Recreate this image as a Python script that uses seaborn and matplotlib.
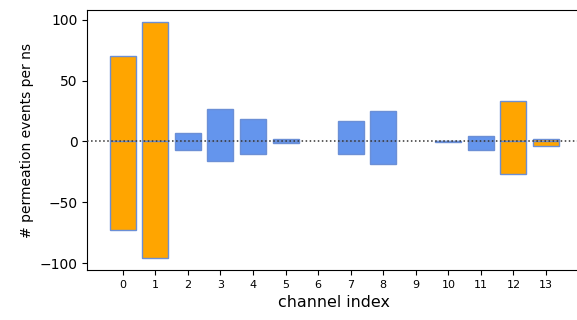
import numpy as np
import pandas as pd
import matplotlib
matplotlib.use("Agg")
import matplotlib.pyplot as plt
import seaborn as sns

# Permeation events per ns for each channel (positive / negative direction)
channels = list(range(14))
events_up = [70, 98, 6.5, 26.5, 18.3, 1.7, np.nan, 16.8, 25.0, np.nan, 0.3, 4.7, 32.9, 2.2]
events_down = [-73, -96, -6.8, -16.1, -10.4, -1.0, np.nan, -10.4, -18.6, np.nan, -0.3, -6.8, -26.6, -4.1]
highlight = [0, 1, 12, 13]
y_ticks = [-100, -50, 0, 50, 100]

bar_colors = ["orange" if c in highlight else "cornflowerblue" for c in channels]
edge_color = "#6b8fd6"

df = pd.DataFrame({"channel": channels, "up": events_up, "down": events_down})

fig = plt.figure(figsize=(5.77, 3.20), dpi=100)
ax = fig.add_axes([0.1513, 0.15625, 0.8565, 0.8125])

for col in ["up", "down"]:
    sns.barplot(data=df, x="channel", y=col, hue="channel", palette=bar_colors,
                legend=False, width=0.8, edgecolor=edge_color, linewidth=1,
                saturation=1, ax=ax)

ax.axhline(0, color="#333333", linestyle=":", linewidth=1.1, zorder=5)

ax.set_xlim(-1.09, 14.09)
ax.set_ylim(-105.6, 107.9)
ax.set_xticks(range(len(channels)))
ax.set_xticklabels([str(c) for c in channels], fontsize=8)
ax.set_yticks(y_ticks)
ax.tick_params(axis="y", labelsize=10)
ax.spines["right"].set_visible(False)
ax.set_xlabel("channel index", fontsize=11.4)
ax.set_ylabel("# permeation events per ns", fontsize=10)

fig.savefig("out.png", dpi=100)
